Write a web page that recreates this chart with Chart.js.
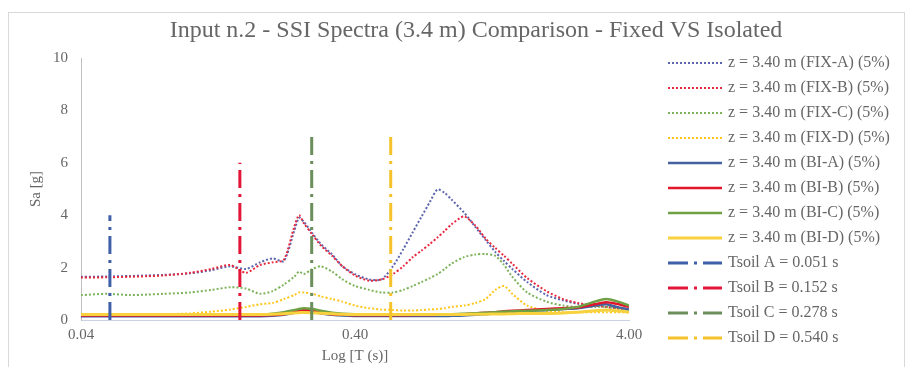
<!DOCTYPE html>
<html><head><meta charset="utf-8">
<script src="https://cdn.jsdelivr.net/npm/chart.js@4"></script>
<style>html,body{margin:0;padding:0;background:#fff;}canvas{display:block;}</style>
</head><body>
<canvas id="c" width="907" height="367"></canvas>
<script>
const periods = [0.04,0.05,0.06,0.07,0.08,0.10,0.12,0.14,0.16,0.18,0.20,0.22,0.24,0.25,0.26,0.28,0.30,0.33,0.36,0.40,0.45,0.50,0.55,0.60,0.65,0.70,0.75,0.80,0.85,0.90,1.0,1.1,1.2,1.3,1.4,1.5,1.7,2.0,2.3,2.6,3.0,3.3,3.6,4.0];
const fixA = [1.65,1.66,1.68,1.70,1.72,1.78,1.90,2.05,1.95,2.20,2.35,2.25,3.40,3.90,3.75,3.30,2.90,2.50,2.05,1.75,1.55,1.55,2.05,2.70,3.35,3.95,4.50,4.98,4.85,4.60,4.10,3.55,3.05,2.60,2.25,1.95,1.45,0.95,0.75,0.62,0.55,0.50,0.45,0.40];
const fixB = [1.62,1.63,1.65,1.67,1.70,1.80,1.95,2.10,1.80,2.10,2.20,2.30,3.55,4.00,3.70,3.25,2.85,2.45,2.05,1.70,1.50,1.55,1.75,2.05,2.40,2.65,2.90,3.15,3.40,3.65,3.95,3.60,3.10,2.75,2.45,2.15,1.60,1.10,0.80,0.65,0.55,0.50,0.45,0.40];
const fixC = [0.95,1.00,0.95,0.97,1.00,1.05,1.15,1.25,1.20,1.00,1.10,1.35,1.65,1.85,1.75,1.95,2.05,1.85,1.55,1.30,1.15,1.05,1.05,1.15,1.30,1.45,1.60,1.75,1.95,2.15,2.40,2.50,2.52,2.45,2.10,1.65,1.05,0.70,0.55,0.50,0.50,0.50,0.45,0.40];
const fixD = [0.20,0.20,0.20,0.20,0.22,0.25,0.32,0.40,0.50,0.60,0.65,0.80,0.95,1.05,1.05,1.00,0.90,0.80,0.70,0.55,0.45,0.40,0.38,0.36,0.36,0.38,0.40,0.42,0.45,0.50,0.55,0.65,0.80,1.15,1.30,1.00,0.55,0.35,0.30,0.30,0.30,0.30,0.30,0.30];
const biA = [0.14,0.14,0.14,0.14,0.14,0.14,0.14,0.14,0.14,0.14,0.16,0.20,0.28,0.32,0.35,0.32,0.25,0.20,0.17,0.15,0.15,0.15,0.15,0.15,0.15,0.15,0.15,0.15,0.15,0.16,0.17,0.20,0.22,0.25,0.28,0.30,0.35,0.38,0.42,0.45,0.55,0.60,0.50,0.40];
const biB = [0.17,0.17,0.17,0.17,0.17,0.17,0.17,0.17,0.17,0.17,0.19,0.22,0.30,0.35,0.38,0.35,0.28,0.22,0.20,0.18,0.18,0.18,0.18,0.18,0.19,0.19,0.19,0.20,0.20,0.20,0.22,0.25,0.28,0.30,0.33,0.35,0.38,0.42,0.45,0.48,0.60,0.68,0.62,0.50];
const biC = [0.20,0.20,0.20,0.20,0.20,0.20,0.20,0.20,0.20,0.20,0.24,0.30,0.38,0.42,0.45,0.42,0.35,0.28,0.24,0.22,0.22,0.22,0.22,0.22,0.22,0.22,0.22,0.22,0.22,0.22,0.24,0.26,0.28,0.30,0.32,0.33,0.35,0.38,0.42,0.50,0.70,0.80,0.72,0.55];
const biD = [0.21,0.21,0.21,0.21,0.21,0.21,0.21,0.21,0.21,0.21,0.22,0.24,0.27,0.28,0.29,0.28,0.26,0.24,0.22,0.21,0.21,0.21,0.21,0.21,0.21,0.21,0.21,0.21,0.21,0.21,0.21,0.22,0.22,0.23,0.23,0.24,0.25,0.25,0.27,0.30,0.35,0.38,0.35,0.30];
const seriesLabels = ['z = 3.40 m (FIX-A) (5%)','z = 3.40 m (FIX-B) (5%)','z = 3.40 m (FIX-C) (5%)','z = 3.40 m (FIX-D) (5%)','z = 3.40 m (BI-A) (5%)','z = 3.40 m (BI-B) (5%)','z = 3.40 m (BI-C) (5%)','z = 3.40 m (BI-D) (5%)'];
const tsoilLabels = ['Tsoil A = 0.051 s','Tsoil B = 0.152 s','Tsoil C = 0.278 s','Tsoil D = 0.540 s'];
const tsoilPeriods = [0.051,0.152,0.278,0.540];
const tsoilHeights = [4,6,7,7];
const xTickValues = [0.04,0.4,4];
const yTickValues = [0,2,4,6,8,10];
const titleText = 'Input n.2 - SSI Spectra (3.4 m) Comparison - Fixed VS Isolated';
const xTitle = 'Log [T (s)]';
const yTitle = 'Sa [g]';

const serif = '"Liberation Serif", "Times New Roman", serif';
const grey = '#666666';
const seriesValues = [fixA, fixB, fixC, fixD, biA, biB, biC, biD];
const seriesColors = ['#5B66AE','#E8283F','#7DB35A','#FFC61A','#44639E','#E3152B','#6FA043','#F7D23E'];
const tsoilColors = ['#3F5FA8','#E3163A','#6B8E5A','#F5C22C'];

const datasets = [];
seriesValues.forEach((vals, i) => {
  const dotted = i < 4;
  datasets.push({
    label: seriesLabels[i],
    data: periods.map((p, k) => ({x: p, y: vals[k]})),
    borderColor: seriesColors[i],
    backgroundColor: seriesColors[i],
    borderWidth: dotted ? 2 : (i === 7 ? 3 : 2.5),
    borderDash: dotted ? [2, 2] : [],
    pointRadius: 0,
    tension: 0.25,
    fill: false
  });
});
tsoilPeriods.forEach((p, i) => {
  datasets.push({
    label: tsoilLabels[i],
    data: [{x: p, y: 0}, {x: p, y: tsoilHeights[i]}],
    borderColor: tsoilColors[i],
    backgroundColor: tsoilColors[i],
    borderWidth: 3,
    borderDash: [18, 6, 3, 6],
    pointRadius: 0,
    fill: false
  });
});
datasets.forEach((d, i) => { d.order = datasets.length - i; });

const frame = {
  id: 'frame',
  beforeDraw(chart) {
    const ctx = chart.ctx;
    ctx.save();
    ctx.fillStyle = '#fff';
    ctx.fillRect(0, 0, chart.width, chart.height);
    ctx.strokeStyle = '#d9d9d9';
    ctx.lineWidth = 1;
    ctx.strokeRect(8.5, 12.5, 896, 360);
    ctx.fillStyle = grey;
    ctx.font = '24px ' + serif;
    ctx.textAlign = 'center';
    ctx.textBaseline = 'middle';
    ctx.fillText(titleText, 476, 31);
    ctx.restore();
  }
};

const customLegend = {
  id: 'customLegend',
  afterDraw(chart) {
    const ctx = chart.ctx;
    ctx.save();
    chart.data.datasets.forEach((d, i) => {
      const y = 63 + 25 * i;
      ctx.beginPath();
      ctx.strokeStyle = d.borderColor;
      ctx.lineWidth = d.borderWidth;
      ctx.setLineDash(i >= 8 ? [20, 6, 3, 6] : (d.borderDash || []));
      ctx.moveTo(668, y);
      ctx.lineTo(722, y);
      ctx.stroke();
      ctx.setLineDash([]);
      ctx.fillStyle = grey;
      ctx.font = '16px ' + serif;
      ctx.textBaseline = 'middle';
      ctx.textAlign = 'left';
      ctx.fillText(d.label, 728, y);
    });
    ctx.restore();
  }
};

new Chart(document.getElementById('c'), {
  type: 'line',
  data: { datasets },
  options: {
    responsive: false,
    animation: false,
    devicePixelRatio: 1,
    layout: { padding: { left: 27, right: 0, top: 58, bottom: 0 } },
    plugins: {
      legend: { display: false },
      tooltip: { enabled: false },
      title: { display: false }
    },
    scales: {
      x: {
        type: 'logarithmic',
        min: 0.04, max: 4,
        afterBuildTicks(scale) { scale.ticks = xTickValues.map(v => ({value: v})); },
        afterFit(scale) { scale.height = 47; },
        ticks: {
          color: grey, font: { family: serif, size: 15 }, padding: 6,
          autoSkip: false, maxRotation: 0,
          callback: (v) => Number(v).toFixed(2)
        },
        grid: { display: false, drawTicks: false },
        border: { display: true, color: '#c9d3e3', width: 1 },
        title: { display: true, text: xTitle, color: grey, font: { family: serif, size: 15 }, padding: { top: 0, bottom: 2 } }
      },
      y: {
        type: 'linear',
        min: 0, max: 10,
        afterBuildTicks(scale) { scale.ticks = yTickValues.map(v => ({value: v})); },
        afterFit(scale) { scale.width = 54; },
        ticks: { color: grey, font: { family: serif, size: 15 }, padding: 13 },
        grid: { display: false, drawTicks: false },
        border: { display: true, color: '#bfbfbf', width: 1 },
        title: { display: true, text: yTitle, color: grey, font: { family: serif, size: 15 }, padding: { top: 0, bottom: 0 } }
      },
      yR: {
        type: 'linear',
        position: 'right',
        display: true,
        afterFit(scale) { scale.width = 278; },
        ticks: { display: false },
        grid: { display: false, drawTicks: false },
        border: { display: false }
      }
    }
  },
  plugins: [frame, customLegend]
});
</script>
</body></html>
